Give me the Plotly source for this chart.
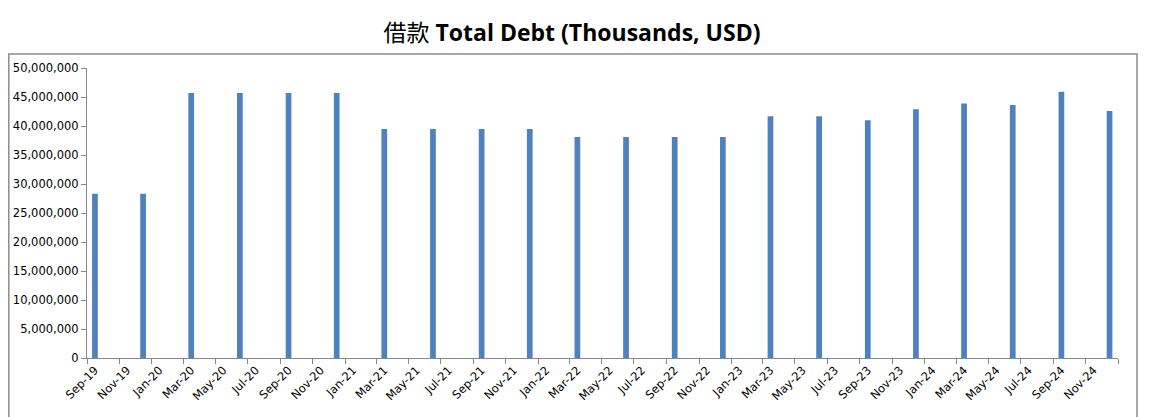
import plotly.graph_objects as go

# Data
periods = ["2019-09", "2019-12", "2020-03", "2020-06", "2020-09", "2020-12",
           "2021-03", "2021-06", "2021-09", "2021-12", "2022-03", "2022-06",
           "2022-09", "2022-12", "2023-03", "2023-06", "2023-09", "2023-12",
           "2024-03", "2024-06", "2024-09", "2024-12"]
total_debt = [28300000, 28300000, 45700000, 45700000, 45700000, 45700000,
              39500000, 39500000, 39500000, 39500000, 38100000, 38100000,
              38100000, 38100000, 41700000, 41700000, 41000000, 42900000,
              43900000, 43600000, 45900000, 42600000]
tick_months = ["2019-09", "2019-11", "2020-01", "2020-03", "2020-05", "2020-07",
               "2020-09", "2020-11", "2021-01", "2021-03", "2021-05", "2021-07",
               "2021-09", "2021-11", "2022-01", "2022-03", "2022-05", "2022-07",
               "2022-09", "2022-11", "2023-01", "2023-03", "2023-05", "2023-07",
               "2023-09", "2023-11", "2024-01", "2024-03", "2024-05", "2024-07",
               "2024-09", "2024-11"]
tick_labels = ["Sep-19", "Nov-19", "Jan-20", "Mar-20", "May-20", "Jul-20",
               "Sep-20", "Nov-20", "Jan-21", "Mar-21", "May-21", "Jul-21",
               "Sep-21", "Nov-21", "Jan-22", "Mar-22", "May-22", "Jul-22",
               "Sep-22", "Nov-22", "Jan-23", "Mar-23", "May-23", "Jul-23",
               "Sep-23", "Nov-23", "Jan-24", "Mar-24", "May-24", "Jul-24",
               "Sep-24", "Nov-24"]

x_bars = [p + "-16" for p in periods]
x_ticks = [m + "-16" for m in tick_months]

DAY_MS = 86400000
W, H = 1141, 409          # page body has an 8px margin
L, R, T, B = 79, 31, 60, 59

fig = go.Figure(go.Bar(
    x=x_bars, y=total_debt,
    width=[10.8 * DAY_MS] * len(x_bars),
    marker=dict(color="#4F81BD", line=dict(width=0)),
    hoverinfo="x+y",
))

fig.update_layout(
    width=W, height=H,
    margin=dict(l=L, r=R, t=T, b=B, autoexpand=False),
    paper_bgcolor="white", plot_bgcolor="white",
    showlegend=False,
    title=dict(text="借款 <b>Total Debt (Thousands, USD)</b>",
               x=(572 - 8) / W, xref="container", xanchor="center",
               y=1 - 25 / H, yref="container", yanchor="middle",
               font=dict(family="Open Sans, Noto Sans CJK SC", size=23, color="black")),
    font=dict(family="DejaVu Sans, Verdana", size=11.5, color="black"),
)

fig.update_xaxes(
    type="date",
    range=["2019-09-01", "2025-01-01"],
    tickvals=x_ticks, ticktext=tick_labels,
    tickangle=-45,
    ticks="",
    showgrid=False, zeroline=False,
    showline=True, linecolor="#888888", linewidth=1,
    minor=dict(tick0="2019-09-01", dtick="M2", ticks="outside", ticklen=5,
               tickcolor="#888888", showgrid=False),
    tickfont=dict(size=11.5),
)

fig.update_yaxes(
    range=[0, 50000000], dtick=5000000, tickformat=",",
    ticks="outside", ticklen=5, tickcolor="#888888",
    showgrid=False, zeroline=False,
    showline=True, linecolor="#888888", linewidth=1,
    tickfont=dict(size=11.5),
)

# outer chart border
pw, ph = W - L - R, H - T - B
fig.add_shape(type="rect", xref="paper", yref="paper",
              x0=(0.8 - L) / pw, x1=(1129 - L) / pw,
              y0=-(B + 20) / ph, y1=(ph + T - 46) / ph,
              line=dict(color="#8c8c8c", width=1.5), fillcolor="rgba(0,0,0,0)",
              layer="below")

fig.write_html("out.html")
